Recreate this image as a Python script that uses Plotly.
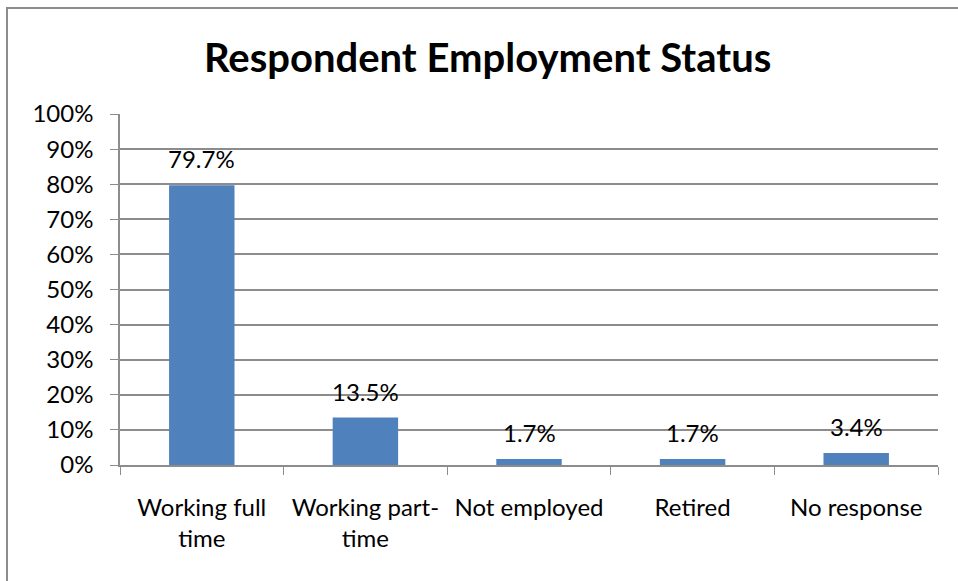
import plotly.graph_objects as go

categories = ["Working full<br>time", "Working part-<br>time", "Not employed", "Retired", "No response"]
values = [79.7, 13.5, 1.7, 1.7, 3.4]
labels = ["79.7%", "13.5%", "1.7%", "1.7%", "3.4%"]
y_ticks = [0, 10, 20, 30, 40, 50, 60, 70, 80, 90, 100]
y_tick_text = [f"{v}%" for v in y_ticks]

FONT = "Lato, 'Open Sans', sans-serif"
GRID = "#8c8c8c"

fig = go.Figure(go.Bar(
    x=categories, y=values,
    marker=dict(color="#4F81BD", line=dict(width=0)),
    width=0.4, hoverinfo="skip",
))

annotations = [
    dict(x=c, y=v, text=t, xref="x", yref="y", showarrow=False, yanchor="bottom",
         yshift=10, font=dict(size=24, family=FONT, color="black"))
    for c, v, t in zip(categories, values, labels)
]

fig.update_layout(
    width=958, height=581,
    margin=dict(l=120, r=20, t=114, b=116),
    paper_bgcolor="white", plot_bgcolor="white",
    font=dict(family=FONT, size=24, color="black"),
    title=dict(text="<b>Respondent Employment Status</b>", x=0.509, xanchor="center",
               y=1 - 58 / 581, yanchor="middle", font=dict(size=40, family=FONT, color="black")),
    showlegend=False,
    annotations=annotations,
    xaxis=dict(showline=True, linecolor=GRID, linewidth=1.5, ticks="outside", ticklen=8,
               tickcolor=GRID, tickson="boundaries", ticklabelstandoff=20,
               tickfont=dict(size=24, family=FONT)),
    yaxis=dict(range=[0, 100], tickvals=y_ticks, ticktext=y_tick_text, showline=True,
               linecolor=GRID, linewidth=1.5, ticks="outside", ticklen=8, tickcolor=GRID,
               showgrid=True, gridcolor=GRID, gridwidth=1.5, zeroline=False,
               ticklabelstandoff=12, tickfont=dict(size=24, family=FONT)),
    shapes=[dict(type="rect", xref="paper", yref="paper",
                 x0=-113 / 818, x1=1.1, y0=-0.5, y1=1 + 106 / 351,
                 line=dict(color="#8c8c8c", width=2), fillcolor="rgba(0,0,0,0)", layer="below")],
)

fig.write_html("out.html", config={"displayModeBar": False},
               post_script="document.body.style.margin='0';document.body.style.overflow='hidden';")
